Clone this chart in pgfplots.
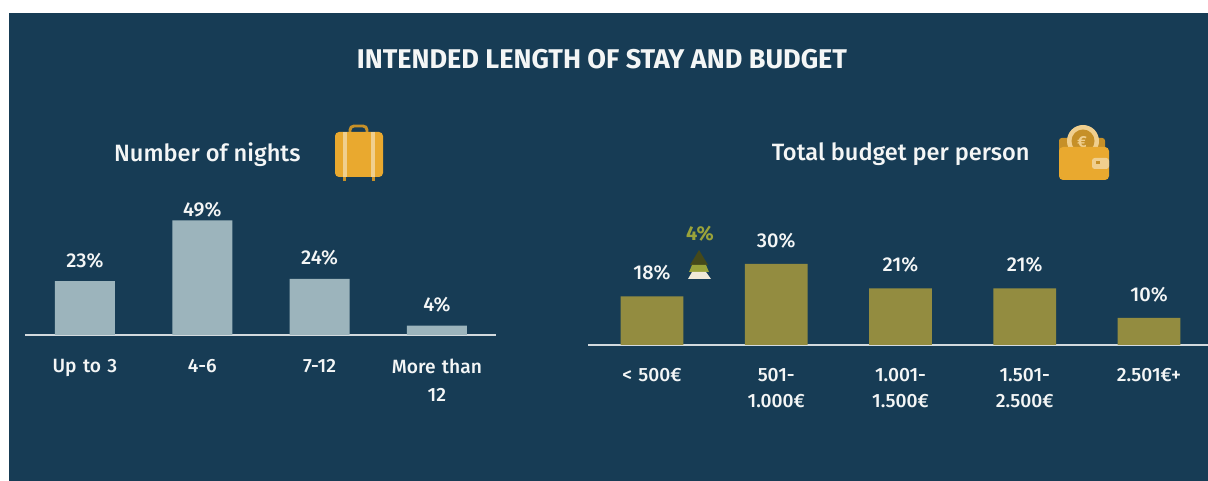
\documentclass[border=0pt]{standalone}
\usepackage{fontspec}
\setmainfont{Fira Sans}
\newfontfamily\firamed{Fira Sans Medium}
\usepackage{pgfplots}
\pgfplotsset{compat=1.18}
\definecolor{bgblue}{HTML}{173C55}
\definecolor{barblue}{HTML}{9CB4BC}
\definecolor{barolive}{HTML}{938C40}
\definecolor{gold}{HTML}{E9A92F}
\definecolor{goldpale}{HTML}{F0CF8E}
\definecolor{upgreen}{HTML}{9AA33A}
\definecolor{textwhite}{HTML}{F4F6F6}

% shared look of both small bar charts, 1 px = 0.75 pt
\pgfplotsset{
  budgetbars/.style={
    anchor=south west,
    scale only axis,
    ybar,
    ymin=0,
    axis x line*=bottom,
    axis y line=none,
    axis line style={draw=textwhite!85!bgblue,line width=1pt,-},
    xtick=data,
    xtick style={draw=none},
    xticklabel style={text=textwhite,align=center,text width=82pt},
    /pgf/number format/assume math mode=true,
    nodes near coords={\pgfmathprintnumber{\pgfplotspointmeta}\%},
    nodes near coords style={
      font=\firamed\fontsize{15}{16}\selectfont,text=textwhite},
    point meta=y,
  },
}

\begin{document}
\begin{tikzpicture}
\useasboundingbox (0,0) rectangle (906pt,360.75pt);
\fill[white] (0,0) rectangle (906pt,360.75pt);
\fill[bgblue] (6.75pt,0) rectangle (906pt,351pt);

\begin{axis}[budgetbars,
  at={(18.75pt,109.5pt)},
  width=353.25pt,height=103.5pt,
  xmin=-0.511,xmax=3.504,ymax=59,
  bar width=45pt,
  xticklabel style={font=\firamed\fontsize{14.4}{21}\selectfont,yshift=-10.5pt},
  xticklabels={Up to 3,4-6,7-12,{More than\\12}},
  nodes near coords style={yshift=6.5pt},
  coordinate style/.condition={y>40}{yshift=-8pt},
]
\addplot[draw=none,fill=barblue] coordinates {(0,23) (1,49) (2,24) (3,4)};
\end{axis}

\begin{axis}[budgetbars,
  at={(441pt,102pt)},
  width=465pt,height=81pt,
  xmin=-0.515,xmax=4.475,ymax=40,
  bar width=47pt,
  xticklabel style={font=\firamed\fontsize{14.4}{19.5}\selectfont,yshift=-9.5pt},
  xticklabels={{< 500€},{501-\\1.000€},{1.001-\\1.500€},{1.501-\\2.500€},{2.501€+}},
  nodes near coords style={yshift=8.5pt},
]
\addplot[draw=none,fill=barolive] coordinates {(0,18) (1,30) (2,21) (3,21) (4,10)};
\end{axis}

\node[text=textwhite,font=\fontsize{20.3}{22}\selectfont\bfseries] at (451.5pt,316.5pt) {INTENDED LENGTH OF STAY AND BUDGET};
\node[text=textwhite,font=\firamed\fontsize{17.7}{20}\selectfont] at (155.5pt,245pt) {Number of nights};
\node[text=textwhite,font=\firamed\fontsize{17.7}{20}\selectfont] at (675.5pt,245pt) {Total budget per person};

% decorations in image pixels, y down
\begin{scope}[x=0.75pt,y=-0.75pt,yshift=360.75pt]
  % suitcase
  \draw[gold!85!black,line width=2.2pt,rounded corners=3pt] (350,133) -- (350,126) -- (367,126) -- (367,133);
  \fill[gold!85!black] (343,175) rectangle (346,181);
  \fill[gold!85!black] (372,175) rectangle (375,181);
  \fill[gold,rounded corners=3pt] (335,132) rectangle (383,177);
  \fill[goldpale] (343,132) rectangle (347,177);
  \fill[goldpale] (371,132) rectangle (374.5,177);
  % wallet
  \fill[gold!85!black,rounded corners=2pt] (1059,138) rectangle (1105,160);
  \fill[goldpale] (1083,141) circle (16);
  \fill[gold!85!black] (1083,141) circle (11.5);
  \node[text=goldpale,font=\fontsize{12}{12}\selectfont\bfseries] at (1082,142) {€};
  \fill[gold,rounded corners=3pt] (1059,147) -- (1109,147) -- (1109,180) -- (1059,180) -- cycle;
  \fill[goldpale,rounded corners=2pt] (1092,158) rectangle (1109,169);
  \fill[gold!85!black] (1096,161.5) rectangle (1100,164.5);
  % growth marker
  \fill[upgreen!45!black] (699,250) -- (708,265) -- (690,265) -- cycle;
  \fill[upgreen] (692,265) -- (706,265) -- (709,272) -- (689,272) -- cycle;
  \fill[textwhite!85!gold] (692,272) -- (706,272) -- (711,279) -- (688,279) -- cycle;
  \node[text=upgreen,font=\fontsize{15}{16}\selectfont\bfseries] at (700,234) {4\%};
\end{scope}
\end{tikzpicture}
\end{document}
